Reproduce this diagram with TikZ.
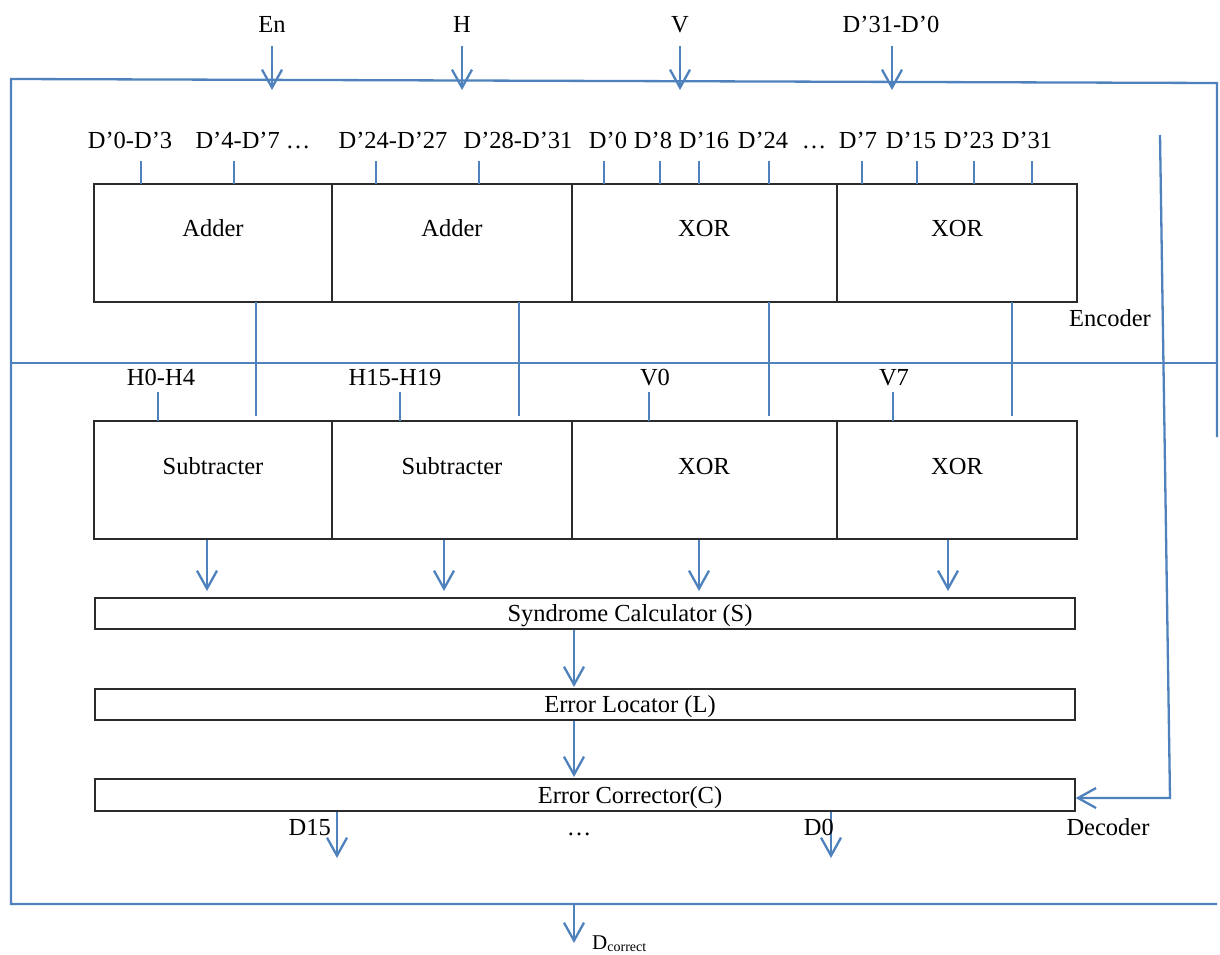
\documentclass[tikz,border=0pt]{standalone}
\usepackage{fontspec}
\setmainfont{Liberation Serif}
\usetikzlibrary{arrows.meta}
\definecolor{wireblue}{HTML}{4F81BD}
\definecolor{boxgray}{HTML}{2B2B2B}
\begin{document}
\begin{tikzpicture}[x=1pt,y=-1pt,
  wire/.style={draw=wireblue,line width=2.3pt},
  arr/.style={wire,-{Straight Barb[length=18pt,width=20pt]}},
  blk/.style={draw=boxgray,line width=1.4pt,rectangle,inner sep=0pt},
  lbl/.style={font=\fontsize{24.5}{29}\selectfont,inner sep=0pt,text=black,anchor=base}]
\useasboundingbox (0,0) rectangle (1220,955);

% ---------- outer frame ----------
\coordinate (frA) at (1217,437);
\coordinate (frB) at (1217,83);
\coordinate (frC) at (11,79);
\coordinate (frD) at (11,904);
\coordinate (frE) at (1217,904);
\draw[wire] (frA) -- (frB) -- (frC) -- (frD) -- (frE);
\coordinate (divL) at (11,363);
\coordinate (divR) at (1216,363);
\draw[wire] (divL) -- (divR);

% ---------- top inputs ----------
\node[lbl] (en) at (272,33) {En};
\node[lbl] (hin) at (462,33) {H};
\node[lbl] (vin) at (680,33) {V};
\node[lbl] (din) at (891,33) {D’31-D’0};
\foreach \n/\x in {en/272,hin/462,vin/680,din/892}{
  \coordinate (\n t) at (\x,46);
  \coordinate (\n h) at (\x,90);
  \draw[arr] (\n t) -- (\n h);
}

% ---------- encoder blocks ----------
\node[blk,minimum width=238pt,minimum height=118pt] (e1) at (213,243) {};
\node[blk,minimum width=240pt,minimum height=118pt] (e2) at (452,243) {};
\node[blk,minimum width=265pt,minimum height=118pt] (e3) at (704.5,243) {};
\node[blk,minimum width=240pt,minimum height=118pt] (e4) at (957,243) {};
\node[lbl] (e1t) at (213,236) {Adder};
\node[lbl] (e2t) at (452,236) {Adder};
\node[lbl] (e3t) at (704,236) {XOR};
\node[lbl] (e4t) at (957,236) {XOR};

% encoder input labels
\node[lbl] (l1) at (130,148) {D’0-D’3};
\node[lbl] (l2) at (253,148) {D’4-D’7 …};
\node[lbl] (l3) at (393,148) {D’24-D’27};
\node[lbl] (l4) at (518,148) {D’28-D’31};
\node[lbl] (l5) at (608,148) {D’0};
\node[lbl] (l6) at (653,148) {D’8};
\node[lbl] (l7) at (704,148) {D’16};
\node[lbl] (l8) at (763,148) {D’24};
\node[lbl] (l9) at (814,148) {…};
\node[lbl] (l10) at (858,148) {D’7};
\node[lbl] (l11) at (911,148) {D’15};
\node[lbl] (l12) at (969,148) {D’23};
\node[lbl] (l13) at (1027,148) {D’31};
\foreach \i/\x in {1/141,2/234,3/376,4/479,5/604,6/660,7/699,8/769,9/862,10/917,11/974,12/1032}{
  \coordinate (et\i a) at (\x,161);
  \coordinate (et\i b) at (\x,184);
  \draw[wire] (et\i a) -- (et\i b);
}
\node[lbl] (enc) at (1110,326) {Encoder};

% ---------- encoder to decoder ----------
\foreach \i/\x in {1/256,2/519,3/769,4/1012}{
  \coordinate (ed\i a) at (\x,302);
  \coordinate (ed\i b) at (\x,416);
  \draw[wire] (ed\i a) -- (ed\i b);
}

% ---------- decoder blocks ----------
\node[blk,minimum width=238pt,minimum height=118pt] (d1) at (213,480) {};
\node[blk,minimum width=240pt,minimum height=118pt] (d2) at (452,480) {};
\node[blk,minimum width=265pt,minimum height=118pt] (d3) at (704.5,480) {};
\node[blk,minimum width=240pt,minimum height=118pt] (d4) at (957,480) {};
\node[lbl] (d1t) at (213,474) {Subtracter};
\node[lbl] (d2t) at (452,474) {Subtracter};
\node[lbl] (d3t) at (704,474) {XOR};
\node[lbl] (d4t) at (957,474) {XOR};

\node[lbl] (h0) at (161,385) {H0-H4};
\node[lbl] (h15) at (395,385) {H15-H19};
\node[lbl] (v0) at (655,385) {V0};
\node[lbl] (v7) at (894,385) {V7};
\foreach \i/\x in {1/158,2/400,3/649,4/893}{
  \coordinate (dt\i a) at (\x,392);
  \coordinate (dt\i b) at (\x,421);
  \draw[wire] (dt\i a) -- (dt\i b);
}

% ---------- syndrome / locator / corrector ----------
\node[blk,minimum width=980pt,minimum height=31pt] (syn) at (585,613.5) {};
\node[lbl] (synt) at (630,621.5) {Syndrome Calculator (S)};
\node[blk,minimum width=980pt,minimum height=31pt] (loc) at (585,704.5) {};
\node[lbl] (loct) at (630,712.5) {Error Locator (L)};
\node[blk,minimum width=980pt,minimum height=32pt] (cor) at (585,795) {};
\node[lbl] (cort) at (630,803) {Error Corrector(C)};

\foreach \i/\x in {1/207,2/444,3/699,4/948}{
  \coordinate (ds\i) at (\x,591);
  \draw[arr] (d\i.south -| ds\i) -- (ds\i);
}
\coordinate (sl) at (574,687);
\draw[arr] (syn.south -| sl) -- (sl);
\coordinate (lc) at (574,777);
\draw[arr] (loc.south -| lc) -- (lc);

% outputs
\coordinate (o15) at (337,858);
\draw[arr] (cor.south -| o15) -- (o15);
\coordinate (o0) at (831,858);
\draw[arr] (cor.south -| o0) -- (o0);
\node[lbl,anchor=base east] (d15) at (331,835) {D15};
\node[lbl] (dots) at (579,835) {…};
\node[lbl,anchor=base east] (d0) at (834,835) {D0};
\node[lbl] (dec) at (1108,835) {Decoder};

% feedback line
\coordinate (fbA) at (1160,135);
\coordinate (fbB) at (1170,798);
\draw[wire,-{Straight Barb[length=18pt,width=20pt]}] (fbA) -- (fbB) -- (cor.east |- fbB);

% final output
\coordinate (outA) at (574,904);
\coordinate (outB) at (574,943);
\draw[arr] (outA) -- (outB);
\node[inner sep=0pt,anchor=base west,text=black] (dcor) at (592,949)
  {\fontsize{21}{24}\selectfont D\raisebox{-2.5pt}{\fontsize{14}{16}\selectfont correct}};
\end{tikzpicture}
\end{document}
